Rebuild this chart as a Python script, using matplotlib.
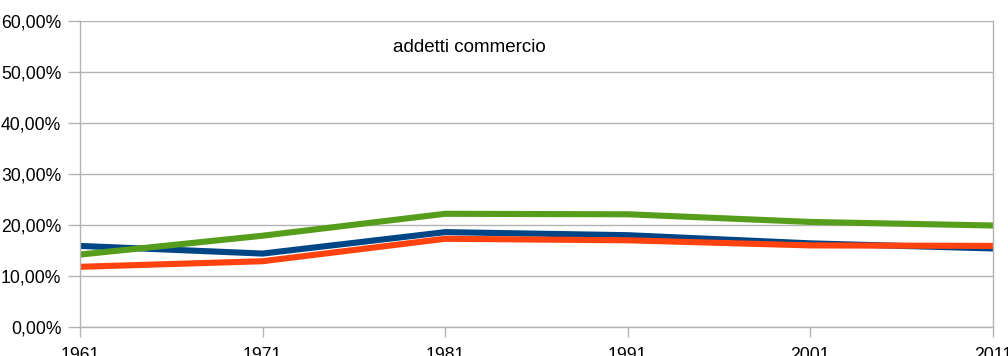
# addetti commercio - quota percentuale per censimento
import matplotlib.pyplot as plt
from matplotlib.ticker import FuncFormatter

anni = [1961, 1971, 1981, 1991, 2001, 2011]
serie_blu = [15.9, 14.4, 18.6, 18.0, 16.4, 15.4]
serie_rossa = [11.8, 12.9, 17.3, 17.0, 16.0, 15.9]
serie_verde = [14.2, 17.9, 22.2, 22.1, 20.6, 19.9]
y_ticks = [0, 10, 20, 30, 40, 50, 60]

plt.rcParams['font.family'] = ['Liberation Sans', 'DejaVu Sans']

fig = plt.figure(figsize=(10.08, 3.56), dpi=100)
ax = fig.add_axes([80/1008, 29/356, 913/1008, 306/356])

ax.plot(anni, serie_blu, color='#004586', lw=4.4, solid_joinstyle='miter')
ax.plot(anni, serie_rossa, color='#ff420e', lw=4.4, solid_joinstyle='miter')
ax.plot(anni, serie_verde, color='#579d1c', lw=4.4, solid_joinstyle='miter')

ax.set_xlim(1961, 2011)
ax.set_ylim(0, 60)
ax.set_xticks(anni)
ax.set_yticks(y_ticks)
ax.yaxis.set_major_formatter(FuncFormatter(lambda v, p: ('%.2f' % v).replace('.', ',') + '%'))

ax.grid(axis='y', color='#b3b3b3', lw=1)
ax.set_axisbelow(True)
for s in ['left', 'right', 'bottom']:
    ax.spines[s].set_color('#b3b3b3')
    ax.spines[s].set_linewidth(1)
ax.spines['top'].set_visible(False)
ax.tick_params(axis='y', length=8.5, width=1, color='#b3b3b3', pad=5, labelsize=12.7)
ax.tick_params(axis='x', length=7.5, width=1, color='#b3b3b3', pad=7, labelsize=12.7)

ax.text(0.427, 0.915, 'addetti commercio', transform=ax.transAxes,
        ha='center', va='center', fontsize=13.5)

fig.savefig('out.png', dpi=100)
